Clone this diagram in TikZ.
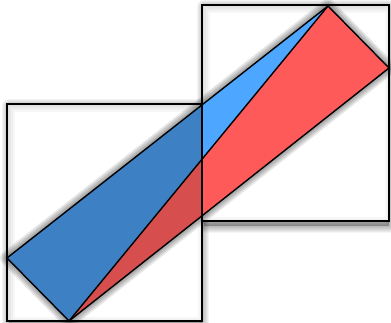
\documentclass[tikz,border=0pt]{standalone}
\definecolor{lblue}{RGB}{77,166,255}
\definecolor{dblue}{RGB}{62,128,196}
\definecolor{lred}{RGB}{255,90,90}
\definecolor{dred}{RGB}{214,78,78}
\tikzset{
  sq/.style={draw=black, line width=1.6pt, fill=white},
  tri/.style={draw=black, line width=1.4pt, line join=round},
  shadowlayer/.style={draw=black, fill=black, opacity=0.045, line width=#1, line join=round},
  trishadow/.style={draw=black, fill=black, opacity=0.09, line width=#1, line join=round},
}
\begin{document}
\begin{tikzpicture}[x=1pt,y=1pt]
\useasboundingbox (0,0) rectangle (391,323);
\coordinate (A) at (7,65);
\coordinate (B) at (69,2);
\coordinate (C) at (328,317);
\coordinate (D) at (389,255);
% square shadows
\foreach \w in {14,12,10,8,6,4,2} {
  \path[shadowlayer=\w pt] (204,97) rectangle (389,316);
  \path[shadowlayer=\w pt] (9,-3) rectangle (202,217);
}
% right square
\path[sq] (202,102) rectangle (389,318);
% inner shadow right square
\begin{scope}
  \clip (202,102) rectangle (389,318);
  \foreach \w in {16,12,8,4} {
    \draw[black, opacity=0.03, line width=\w pt] (202,98) rectangle (393,318);
  }
\end{scope}
% left square
\path[sq] (7,2) rectangle (202,219);
\begin{scope}
  \clip (7,2) rectangle (202,219);
  \foreach \w in {16,12,8,4} {
    \draw[black, opacity=0.03, line width=\w pt] (7,-2) rectangle (206,219);
  }
\end{scope}
% triangles shadow
\begin{scope}[shift={(5,-7)}]
  \foreach \w in {14,11,8,5,2} {
    \path[trishadow=\w pt] (A) -- (C) -- (D) -- (B) -- cycle;
  }
\end{scope}
\fill[lblue] (A) -- (C) -- (B) -- cycle;
\fill[lred] (B) -- (C) -- (D) -- cycle;
\begin{scope}
  \clip (7,2) rectangle (202,219);
  \fill[dblue] (A) -- (C) -- (B) -- cycle;
  \fill[dred] (B) -- (C) -- (D) -- cycle;
\end{scope}
\draw[tri] (A) -- (C) -- (D) -- (B) -- cycle;
\draw[tri] (B) -- (C);
% left square outline on top
\draw[line width=1.6pt] (7,2) rectangle (202,219);
\end{tikzpicture}
\end{document}
